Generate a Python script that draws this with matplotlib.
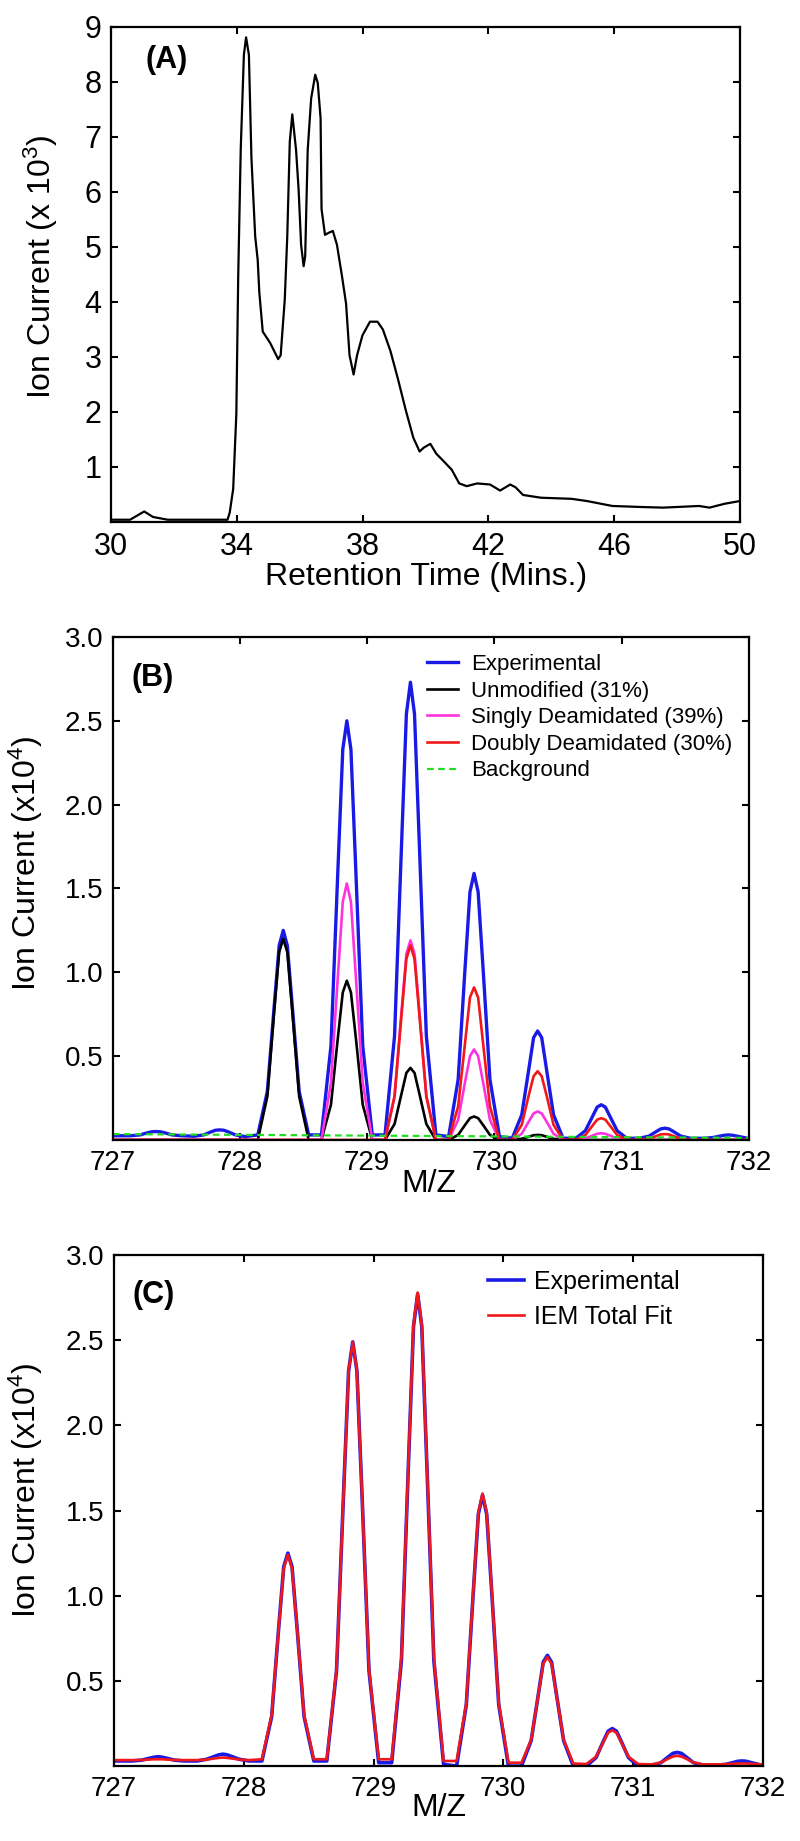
import numpy as np
import matplotlib
matplotlib.use('Agg')
import matplotlib.pyplot as plt

plt.rcParams['font.family'] = ['Liberation Sans', 'DejaVu Sans']
plt.rcParams['mathtext.fontset'] = 'custom'
plt.rcParams['mathtext.rm'] = 'Liberation Sans'
plt.rcParams['mathtext.it'] = 'Liberation Sans'

# (A) total ion chromatogram
rt = [30.0, 30.6, 31.05, 31.33, 31.8, 33.7, 33.77, 33.88, 33.98, 34.04, 34.12, 34.22, 34.29,
      34.38, 34.46, 34.58, 34.66, 34.71, 34.82, 35.06, 35.31, 35.39, 35.52, 35.6, 35.68, 35.76,
      35.88, 35.96, 36.04, 36.12, 36.17, 36.25, 36.36, 36.49, 36.57, 36.66, 36.69, 36.8, 36.93,
      37.05, 37.18, 37.34, 37.47, 37.58, 37.71, 37.82, 37.99, 38.23, 38.47, 38.64, 38.88, 39.12,
      39.37, 39.61, 39.81, 39.94, 40.15, 40.34, 40.58, 40.83, 41.07, 41.31, 41.64, 42.05, 42.37,
      42.69, 42.86, 43.1, 43.67, 44.64, 45.13, 45.94, 46.92, 47.56, 48.7, 49.03, 49.51, 50.0]
tic = [0.04, 0.04, 0.19, 0.09, 0.04, 0.04, 0.17, 0.6, 1.96, 4.47, 6.77, 8.49, 8.81,
       8.49, 6.62, 5.19, 4.76, 4.18, 3.46, 3.25, 2.96, 3.03, 4.04, 5.19, 6.91, 7.41,
       6.76, 6.05, 5.04, 4.65, 4.83, 6.76, 7.7, 8.13, 7.98, 7.34, 5.69, 5.22, 5.26,
       5.29, 5.04, 4.47, 3.97, 3.03, 2.68, 3.03, 3.39, 3.64, 3.64, 3.5, 3.11, 2.6,
       2.03, 1.53, 1.28, 1.35, 1.42, 1.24, 1.1, 0.95, 0.7, 0.65, 0.7, 0.68, 0.57,
       0.68, 0.63, 0.49, 0.44, 0.42, 0.38, 0.29, 0.27, 0.26, 0.29, 0.26, 0.33, 0.38]

# m/z sampling points, one row per isotope peak (727.34 ... 731.84)
mz_rows = [
    [727.14, 727.215, 727.268, 727.308, 727.34, 727.372, 727.412, 727.465, 727.54],
    [727.64, 727.715, 727.768, 727.808, 727.84, 727.872, 727.912, 727.965, 728.04],
    [728.14, 728.215, 728.268, 728.308, 728.34, 728.372, 728.412, 728.465, 728.54],
    [728.64, 728.715, 728.768, 728.808, 728.84, 728.872, 728.912, 728.965, 729.04],
    [729.14, 729.215, 729.268, 729.308, 729.34, 729.372, 729.412, 729.465, 729.54],
    [729.64, 729.715, 729.768, 729.808, 729.84, 729.872, 729.912, 729.965, 730.04],
    [730.14, 730.215, 730.268, 730.308, 730.34, 730.372, 730.412, 730.465, 730.54],
    [730.64, 730.715, 730.768, 730.808, 730.84, 730.872, 730.912, 730.965, 731.04],
    [731.14, 731.215, 731.268, 731.308, 731.34, 731.372, 731.412, 731.465, 731.54],
    [731.64, 731.715, 731.768, 731.808, 731.84, 731.872, 731.912, 731.965, 731.99],
]
mz_start, mz_end = 727.0, 732.0

# (B) intensities, x10^4
exp_b = [
    [0.025, 0.03, 0.042, 0.049, 0.05, 0.049, 0.042, 0.03, 0.025],
    [0.022, 0.03, 0.047, 0.058, 0.06, 0.058, 0.047, 0.03, 0.02],
    [0.03, 0.29, 0.79, 1.16, 1.25, 1.16, 0.79, 0.29, 0.03],
    [0.03, 0.56, 1.58, 2.33, 2.50, 2.33, 1.58, 0.56, 0.03],
    [0.03, 0.62, 1.72, 2.54, 2.73, 2.54, 1.72, 0.62, 0.03],
    [0.02, 0.36, 1.01, 1.48, 1.59, 1.48, 1.01, 0.36, 0.02],
    [0.01, 0.15, 0.41, 0.61, 0.65, 0.61, 0.41, 0.15, 0.01],
    [0.01, 0.055, 0.135, 0.196, 0.21, 0.196, 0.135, 0.055, 0.01],
    [0.01, 0.023, 0.048, 0.066, 0.07, 0.066, 0.048, 0.023, 0.01],
    [0.01, 0.014, 0.022, 0.028, 0.03, 0.028, 0.022, 0.014, 0.01],
]
exp_b_ends = [0.025, 0.01]

unmod = [  # rows 2..6
    [0.0, 0.26, 0.76, 1.12, 1.20, 1.12, 0.76, 0.26, 0.0],
    [0.0, 0.21, 0.60, 0.88, 0.95, 0.88, 0.60, 0.21, 0.0],
    [0.0, 0.095, 0.27, 0.40, 0.43, 0.40, 0.27, 0.095, 0.0],
    [0.0, 0.03, 0.088, 0.13, 0.14, 0.13, 0.088, 0.03, 0.0],
    [0.0, 0.007, 0.019, 0.028, 0.03, 0.028, 0.019, 0.007, 0.0],
]
single = [  # rows 3..7
    [0.0, 0.34, 0.96, 1.42, 1.53, 1.42, 0.96, 0.34, 0.0],
    [0.0, 0.26, 0.75, 1.11, 1.19, 1.11, 0.75, 0.26, 0.0],
    [0.0, 0.12, 0.34, 0.50, 0.54, 0.50, 0.34, 0.12, 0.0],
    [0.0, 0.037, 0.107, 0.158, 0.17, 0.158, 0.107, 0.037, 0.0],
    [0.0, 0.009, 0.025, 0.037, 0.04, 0.037, 0.025, 0.009, 0.0],
]
double = [  # rows 4..8
    [0.0, 0.26, 0.73, 1.08, 1.16, 1.08, 0.73, 0.26, 0.0],
    [0.0, 0.20, 0.57, 0.85, 0.91, 0.85, 0.57, 0.20, 0.0],
    [0.0, 0.09, 0.26, 0.38, 0.41, 0.38, 0.26, 0.09, 0.0],
    [0.0, 0.029, 0.082, 0.121, 0.13, 0.121, 0.082, 0.029, 0.0],
    [0.0, 0.008, 0.022, 0.033, 0.035, 0.033, 0.022, 0.008, 0.0],
]
background = [0.035, 0.012]

# (C) experimental vs total fit
exp_c = [
    [0.03, 0.035, 0.045, 0.052, 0.055, 0.052, 0.045, 0.035, 0.03],
    [0.03, 0.04, 0.055, 0.066, 0.07, 0.066, 0.055, 0.04, 0.03],
    [0.03, 0.29, 0.80, 1.17, 1.25, 1.17, 0.80, 0.29, 0.03],
    [0.03, 0.56, 1.58, 2.32, 2.49, 2.32, 1.58, 0.56, 0.02],
    [0.02, 0.62, 1.75, 2.58, 2.77, 2.58, 1.75, 0.62, 0.01],
    [0.0, 0.36, 1.01, 1.48, 1.59, 1.48, 1.01, 0.36, 0.0],
    [0.0, 0.15, 0.41, 0.61, 0.65, 0.61, 0.41, 0.15, 0.0],
    [0.0, 0.05, 0.14, 0.205, 0.22, 0.205, 0.14, 0.05, 0.0],
    [0.0, 0.02, 0.052, 0.075, 0.08, 0.075, 0.052, 0.02, 0.005],
    [0.005, 0.01, 0.02, 0.028, 0.03, 0.028, 0.02, 0.01, 0.005],
]
exp_c_ends = [0.03, 0.005]
fit_c = [
    [0.035, 0.036, 0.038, 0.04, 0.04, 0.04, 0.038, 0.036, 0.035],
    [0.035, 0.038, 0.044, 0.048, 0.05, 0.048, 0.044, 0.038, 0.035],
    [0.04, 0.30, 0.80, 1.16, 1.24, 1.16, 0.80, 0.30, 0.04],
    [0.04, 0.57, 1.58, 2.32, 2.49, 2.32, 1.58, 0.57, 0.04],
    [0.04, 0.64, 1.76, 2.59, 2.78, 2.59, 1.76, 0.64, 0.03],
    [0.03, 0.37, 1.02, 1.49, 1.60, 1.49, 1.02, 0.37, 0.02],
    [0.02, 0.155, 0.41, 0.60, 0.64, 0.60, 0.41, 0.155, 0.015],
    [0.012, 0.055, 0.135, 0.196, 0.21, 0.196, 0.135, 0.055, 0.012],
    [0.01, 0.021, 0.042, 0.056, 0.06, 0.056, 0.042, 0.021, 0.01],
    [0.01, 0.011, 0.013, 0.015, 0.015, 0.015, 0.013, 0.011, 0.01],
]
fit_c_ends = [0.035, 0.01]


def series(rows, first, ends=(0.0, 0.0)):
    # join peak rows into one trace, with baseline points at both ends
    x = [mz_start] + list(np.ravel(mz_rows[first:first + len(rows)])) + [mz_end]
    y = [ends[0]] + list(np.ravel(rows)) + [ends[1]]
    return x, y


def style_axes(ax, tick_size):
    for s in ax.spines.values():
        s.set_linewidth(1.6)
    ax.tick_params(direction='in', top=True, right=True, length=5, width=1.5,
                   labelsize=tick_size, pad=7)


fig = plt.figure(figsize=(8, 18.41), dpi=100)

# ---- (A)
ax1 = fig.add_axes([0.139, 0.7165, 0.786, 0.2689])
ax1.plot(rt, tic, color='black', lw=1.6)
ax1.set_xlim(30, 50)
ax1.set_ylim(0, 9)
ax1.set_xticks([30, 34, 38, 42, 46, 50])
ax1.set_yticks(range(1, 10))
style_axes(ax1, 22)
ax1.set_xlabel('Retention Time (Mins.)', fontsize=23)
ax1.xaxis.set_label_coords(0.5, -0.08)
ax1.set_ylabel('Ion Current (x 10$^3$)', fontsize=23)
ax1.yaxis.set_label_coords(-0.081, 0.515)
ax1.text(0.054, 0.933, '(A)', transform=ax1.transAxes, fontsize=22,
         fontweight='bold', va='center')

# ---- (B)
ax2 = fig.add_axes([0.141, 0.3808, 0.795, 0.2732])
x, y = series(exp_b, 0, exp_b_ends)
ax2.plot(x, y, color='#1a1ae6', lw=2.4, label='Experimental')
x, y = series(unmod, 2)
ax2.plot(x, y, color='black', lw=1.9, label='Unmodified (31%)')
x, y = series(single, 3)
ax2.plot(x, y, color='#ff33dd', lw=1.9, label='Singly Deamidated (39%)')
x, y = series(double, 4)
ax2.plot(x, y, color='#f01818', lw=1.9, label='Doubly Deamidated (30%)')
ax2.plot([mz_start, mz_end], background, color='#22dd22', lw=1.6, ls='--',
         dashes=(3, 2), label='Background')
ax2.set_xlim(727, 732)
ax2.set_ylim(0, 3)
ax2.set_yticks([0.5, 1.0, 1.5, 2.0, 2.5, 3.0])
ax2.set_yticklabels(['0.5', '1.0', '1.5', '2.0', '2.5', '3.0'])
style_axes(ax2, 20)
ax2.set_xlabel('M/Z', fontsize=23)
ax2.xaxis.set_label_coords(0.497, -0.058)
ax2.set_ylabel('Ion Current (x10$^4$)', fontsize=23)
ax2.yaxis.set_label_coords(-0.107, 0.55)
ax2.text(0.030, 0.918, '(B)', transform=ax2.transAxes, fontsize=22,
         fontweight='bold', va='center')
ax2.legend(loc='upper left', bbox_to_anchor=(0.494, 0.966), frameon=False,
           fontsize=16, handlelength=1.4, handletextpad=0.6, labelspacing=0.25,
           borderpad=0, borderaxespad=0)

# ---- (C)
ax3 = fig.add_axes([0.1425, 0.0407, 0.811, 0.2776])
x, y = series(exp_c, 0, exp_c_ends)
ax3.plot(x, y, color='#1a1ae6', lw=2.6, label='Experimental')
x, y = series(fit_c, 0, fit_c_ends)
ax3.plot(x, y, color='#f01818', lw=1.9, label='IEM Total Fit')
ax3.set_xlim(727, 732)
ax3.set_ylim(0, 3)
ax3.set_yticks([0.5, 1.0, 1.5, 2.0, 2.5, 3.0])
ax3.set_yticklabels(['0.5', '1.0', '1.5', '2.0', '2.5', '3.0'])
style_axes(ax3, 20)
ax3.set_xlabel('M/Z', fontsize=23)
ax3.xaxis.set_label_coords(0.5, -0.053)
ax3.set_ylabel('Ion Current (x10$^4$)', fontsize=23)
ax3.yaxis.set_label_coords(-0.106, 0.54)
ax3.text(0.029, 0.922, '(C)', transform=ax3.transAxes, fontsize=22,
         fontweight='bold', va='center')
ax3.legend(loc='upper left', bbox_to_anchor=(0.576, 0.971), frameon=False,
           fontsize=18, handlelength=1.44, handletextpad=0.4, labelspacing=0.44,
           borderpad=0, borderaxespad=0)

fig.savefig('out.png', dpi=100)
